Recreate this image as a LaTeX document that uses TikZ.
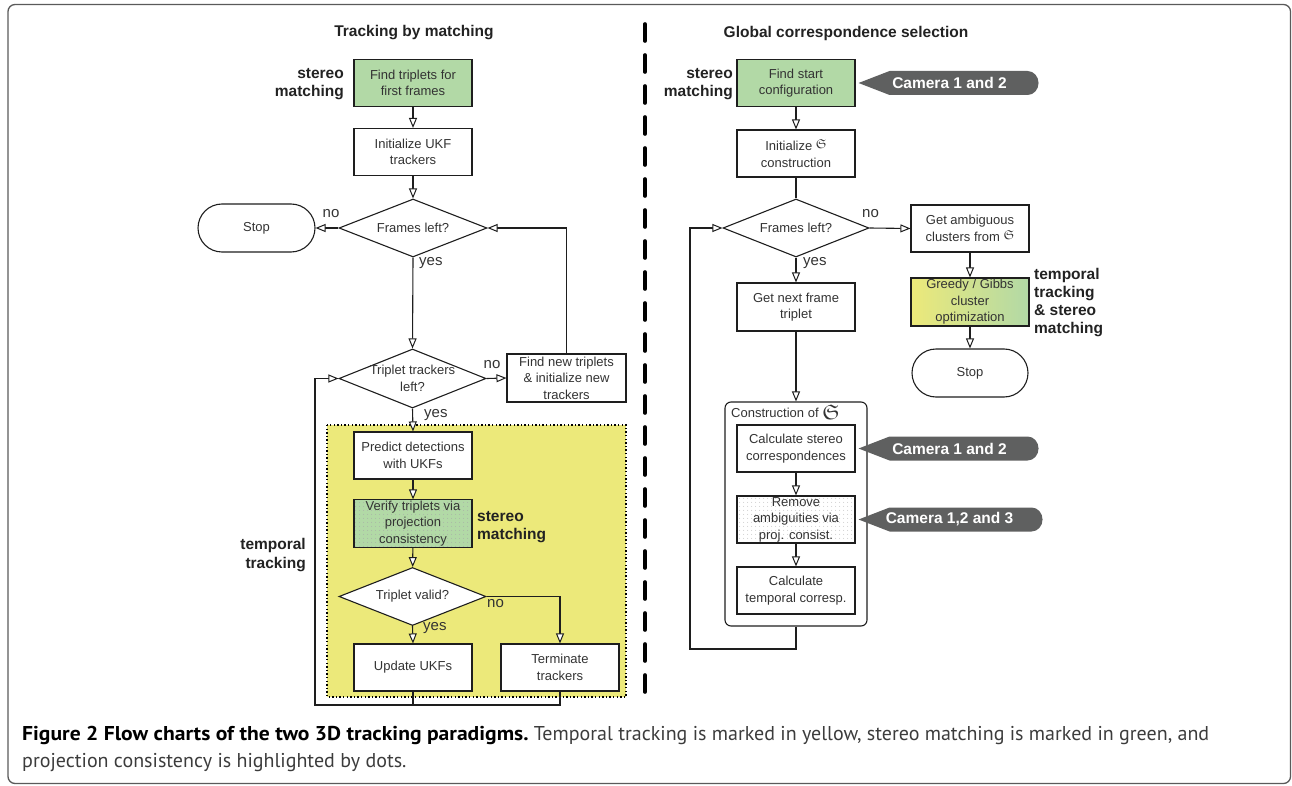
\documentclass[tikz,border=0pt]{standalone}
\usepackage{fontspec}
\setmainfont{Liberation Sans}
\newfontfamily\capfont{PT Sans}
\usepackage{amssymb}
\usetikzlibrary{arrows.meta,shapes.geometric,shapes.misc,patterns.meta,calc}
\definecolor{grn}{RGB}{178,217,166}
\definecolor{ylw}{RGB}{236,233,122}
\definecolor{callgray}{RGB}{95,96,96}
\definecolor{txt}{RGB}{51,51,51}
\definecolor{btxt}{RGB}{34,34,34}
\definecolor{lineblk}{RGB}{30,30,30}
\definecolor{framegray}{RGB}{90,90,90}
\definecolor{captxt}{RGB}{60,60,60}
\newcommand\bxfont{\fontsize{13}{16.5}\selectfont}
\newcommand\ynfont{\fontsize{15}{18}\selectfont}
\newcommand\blabfont{\bfseries\fontsize{15.5}{18.3}\selectfont}
\newcommand\mycallout[4]{%
  \path (#1.east) ++(3,0) coordinate (#2);
  \fill[callgray] (#2) -- ++(31,-12) -- ++(#3,0)
     arc[start angle=90,end angle=-90,x radius=11pt,y radius=12pt]
     -- ++(-#3,0) -- cycle;
  \node[calltext] (#2t) at ($(#2)+(91,0)$) {#4};}
\begin{document}
\begin{tikzpicture}[x=1pt,y=-1pt,
  box/.style={draw=lineblk, line width=1.1pt, fill=white, minimum width=118pt,
    minimum height=47pt, align=center, inner sep=1pt, text=txt, font=\bxfont},
  term/.style={box, rounded rectangle, minimum height=48pt},
  dia/.style={draw=lineblk, line width=1.1pt, fill=white, diamond,
    minimum width=147pt, minimum height=58pt, inner sep=0pt},
  dtext/.style={text=txt, font=\bxfont, align=center},
  arr/.style={draw=lineblk, line width=1.1pt,
    -{Triangle[length=10pt,width=8pt,fill=white,line width=1pt]}},
  ln/.style={draw=lineblk, line width=1.1pt},
  yn/.style={text=txt, font=\ynfont, inner sep=0pt},
  blab/.style={font=\blabfont, text=btxt, inner sep=0pt},
  calltext/.style={text=white, font=\blabfont, inner sep=0pt},
  dotfill/.style={pattern={Dots[distance=4pt,radius=0.55pt]}, pattern color=#1},
  captext/.style={anchor=base west, inner sep=0pt, text=captxt, font=\capfont\fontsize{20}{23}\selectfont},
]
\useasboundingbox (0,0) rectangle (1292,786);
% outer frame
\draw[framegray, line width=1.3pt, rounded corners=7pt] (8,4.5) rectangle (1290.5,783.5);
% divider
\draw[black, line width=3.6pt, line cap=round, dash pattern=on 17pt off 14pt] (645,24) -- (645,702);

% titles
\node[blab] (t1) at (414,33) {Tracking by matching};
\node[blab] (t2) at (846,33) {Global correspondence selection};

% ---------------- left chart ----------------
\fill[ylw] (327,425) rectangle (626,697);
\draw[black, line width=1.2pt, dash pattern=on 1.4pt off 2.2pt] (327,425) rectangle (626,697);

\node[box, fill=grn] (L1) at (413,83) {Find triplets for\\first frames};
\node[box] (L2) at (413,152) {Initialize UKF\\trackers};
\node[dia, minimum width=148pt, label={[dtext]center:Frames left?}] (LD1) at (413,228) {};
\node[term, minimum width=119pt] (Lstop) at (256.5,228) {Stop};
\node[dia, minimum height=59pt, label={[dtext]center:Triplet trackers\\left?}] (LD2) at (412.5,378.5) {};
\node[box, minimum width=119pt, minimum height=48pt] (Lnew) at (566.5,378) {Find new triplets\\\& initialize new\\trackers};
\node[box] (Lpred) at (413,455.5) {Predict detections\\with UKFs};
\node[box, preaction={fill=grn}, dotfill=black!35] (Lver) at (413,523.5) {Verify triplets via\\projection\\consistency};
\node[dia, label={[dtext]center:Triplet valid?}] (LD3) at (412.5,596.5) {};
\node[box] (Lupd) at (413,667.5) {Update UKFs};
\node[box] (Lterm) at (560,667.5) {Terminate\\trackers};
\coordinate (lb) at (315,705);

\draw[arr] (L1) -- (L2);
\draw[arr] (L2) -- (LD1);
\draw[arr] (LD1.west) -- (Lstop.east);
\draw[arr] (LD1.south) -- (LD2.north);
\draw[arr] (LD2.east) -- (Lnew.west);
\draw[arr] (Lnew.north) |- (LD1.east);
\draw[arr] (LD2.south) -- (Lpred.north);
\draw[arr] (Lpred) -- (Lver);
\draw[arr] (Lver) -- (LD3);
\draw[arr] (LD3.south) -- (Lupd.north);
\draw[arr] (LD3.east) -| (Lterm.north);
\draw[ln] (Lupd.south) -- (Lupd.south |- lb);
\draw[arr] (Lterm.south) |- (lb) |- (LD2.west);

\node[yn] (n1) at (331,214) {no};
\node[yn, anchor=west] (y1) at (419,263) {yes};
\node[yn] (n2) at (492,365) {no};
\node[yn, anchor=west] (y2) at (424,415) {yes};
\node[yn, anchor=west] (n3) at (487,604) {no};
\node[yn, anchor=west] (y3) at (423,628) {yes};

\node[blab, align=right, anchor=east] (s1) at (344,84) {stereo\\matching};
\node[blab, align=left, anchor=west] (s2) at (477,527) {stereo\\matching};
\node[blab, align=right, anchor=east] (s3) at (306,555) {temporal\\tracking};

% ---------------- right chart ----------------
\node[draw=lineblk, line width=1.1pt, rounded corners=6pt, minimum width=142pt,
  minimum height=224pt, inner sep=0pt] (Rcont) at (796,514) {};
\node[text=txt, font=\bxfont, anchor=west, inner sep=0pt] (Rcl) at (731,412)
  {Construction of \raisebox{-2pt}{\fontsize{21}{21}\selectfont$\mathfrak{S}$}};

\node[box, fill=grn] (R1) at (796,83) {Find start\\configuration};
\node[box] (R2) at (796,153.5) {Initialize \raisebox{2pt}{$\mathfrak{S}$}\\construction};
\node[dia, minimum width=146pt, label={[dtext]center:Frames left?}] (RD1) at (796,228) {};
\node[box] (Ramb) at (970,228.5) {Get ambiguous\\clusters from \raisebox{2pt}{$\mathfrak{S}$}};
\node[box, minimum height=48pt, left color=ylw, right color=grn] (Rgr) at (970,302) {Greedy / Gibbs\\cluster\\optimization};
\node[term, minimum width=118pt] (Rstop) at (970,373) {Stop};
\node[box, minimum height=48pt] (Rnext) at (796,307) {Get next frame\\triplet};
\node[box] (Rcalc) at (796,448.5) {Calculate stereo\\correspondences};
\node[box, preaction={fill=white}, dotfill=black!28] (Rrem) at (796,519.5) {Remove\\ambiguities via\\proj. consist.};
\node[box] (Rtemp) at (796,590.5) {Calculate\\temporal corresp.};
\coordinate (rb) at (690,649);

\draw[arr] (R1) -- (R2);
\draw[ln] (R2.south) -- (RD1.north);
\draw[arr] (RD1.east) -- (Ramb.west);
\draw[arr] (Ramb) -- (Rgr);
\draw[arr] (Rgr) -- (Rstop);
\draw[arr] (RD1.south) -- (Rnext.north);
\draw[arr] (Rnext.south) -- (Rcont.north);
\draw[arr] (Rcalc) -- (Rrem);
\draw[arr] (Rrem) -- (Rtemp);
\draw[arr] (Rcont.south) |- (rb) |- (RD1.west);

\node[yn, anchor=west] (n4) at (862,214) {no};
\node[yn, anchor=west] (y4) at (803,263) {yes};

\node[blab, align=right, anchor=east] (s4) at (733,84) {stereo\\matching};
\node[blab, align=left, anchor=west] (s5) at (1034,302.5) {temporal\\tracking\\\& stereo\\matching};

\mycallout{R1}{c1}{138}{Camera 1 and 2}
\mycallout{Rcalc}{c2}{138}{Camera 1 and 2}
\mycallout{Rrem}{c3}{142}{Camera 1,2 and 3}

% caption
\node[captext] (cap1) at (22,740)
  {\textcolor{black}{\scalebox{1.08}[1]{\bfseries Figure 2 Flow charts of the two 3D tracking paradigms.}} Temporal tracking is marked in yellow, stereo matching is marked in green, and};
\node[captext] (cap2) at (22,767)
  {projection consistency is highlighted by dots.};
\end{tikzpicture}
\end{document}
